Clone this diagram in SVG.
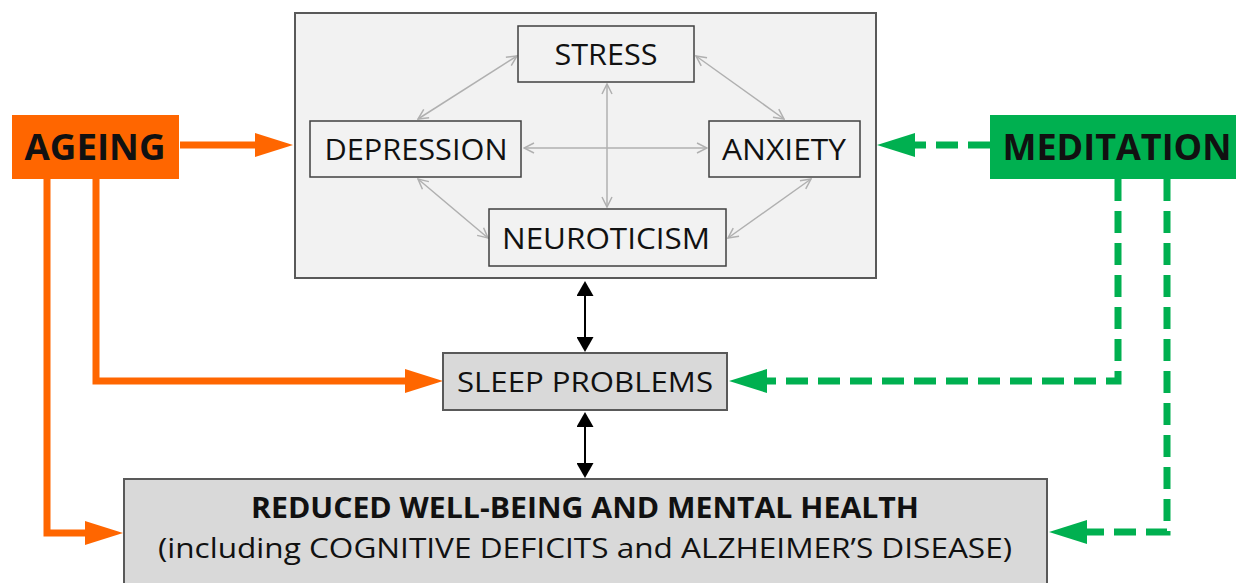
<svg xmlns="http://www.w3.org/2000/svg" width="1236" height="583" viewBox="0 0 1236 583">
<style>
text{font-family:"Open Sans","Liberation Sans",sans-serif;fill:#111;}
.lbl{font-size:30px;text-anchor:middle;}
.big{font-size:36px;font-weight:bold;text-anchor:middle;}
.box{fill:#f2f2f2;stroke:#404040;stroke-width:1.5;}
.gbox{fill:#d9d9d9;stroke:#595959;stroke-width:2;}
.gray{stroke:#b0b0b0;stroke-width:1.5;fill:none;marker-start:url(#gh);marker-end:url(#gh);}
.or{stroke:#ff6600;stroke-width:7;fill:none;marker-end:url(#oh);}
.gr{stroke:#00b050;stroke-width:7;fill:none;stroke-dasharray:22 10;marker-end:url(#grh);}
.bk{stroke:#000;stroke-width:2;fill:none;marker-start:url(#bh);marker-end:url(#bh);}
</style>
<defs>
<marker id="gh" viewBox="0 0 12 12" refX="11" refY="6" markerWidth="12" markerHeight="12" markerUnits="userSpaceOnUse" orient="auto-start-reverse"><path d="M1,1 L11,6 L1,11" fill="none" stroke="#b0b0b0" stroke-width="1.5"/></marker>
<marker id="oh" viewBox="0 0 38 24" refX="0" refY="12" markerWidth="38" markerHeight="24" markerUnits="userSpaceOnUse" orient="auto"><path d="M0,0 L38,12 L0,24 z" fill="#ff6600"/></marker>
<marker id="grh" viewBox="0 0 38 24" refX="0" refY="12" markerWidth="38" markerHeight="24" markerUnits="userSpaceOnUse" orient="auto"><path d="M0,0 L38,12 L0,24 z" fill="#00b050"/></marker>
<marker id="bh" viewBox="0 0 15 17" refX="0" refY="8.5" markerWidth="15" markerHeight="17" markerUnits="userSpaceOnUse" orient="auto-start-reverse"><path d="M0,0 L15,8.5 L0,17 z" fill="#000"/></marker>
</defs>

<g id="mood-group">
<rect x="295" y="13" width="581" height="265" fill="#f2f2f2" stroke="#595959" stroke-width="2"/>
</g>

<g id="connectors">
<line class="gray" x1="418" y1="119" x2="517" y2="56"/>
<line class="gray" x1="696" y1="56" x2="784" y2="119"/>
<line class="gray" x1="524" y1="148" x2="707" y2="148"/>
<line class="gray" x1="607" y1="84" x2="607" y2="207"/>
<line class="gray" x1="418" y1="179" x2="488" y2="238"/>
<line class="gray" x1="811" y1="179" x2="728" y2="238"/>
<line class="bk" x1="585" y1="296" x2="585" y2="337"/>
<line class="bk" x1="585" y1="427" x2="585" y2="463"/>
<path class="or" d="M180,145 H255"/>
<path class="or" d="M96,179 V381 H405"/>
<path class="or" d="M47,179 V533 H85"/>
<path class="gr" d="M990,145 H915"/>
<path class="gr" d="M1118,179 V381 H767"/>
<path class="gr" d="M1167,179 V532 H1087"/>
</g>

<g id="ageing">
<rect x="12" y="115" width="167" height="64" fill="#ff6600"/>
<text class="big" x="95" y="160" textLength="141" lengthAdjust="spacingAndGlyphs">AGEING</text>
</g>
<g id="meditation">
<rect x="990" y="115" width="250" height="64" fill="#00b050"/>
<text class="big" x="1117" y="160" textLength="229" lengthAdjust="spacingAndGlyphs">MEDITATION</text>
</g>
<g id="stress">
<rect class="box" x="518" y="26" width="176" height="56"/>
<text class="lbl" x="606" y="65" textLength="103" lengthAdjust="spacingAndGlyphs">STRESS</text>
</g>
<g id="depression">
<rect class="box" x="310" y="121" width="211" height="56"/>
<text class="lbl" x="416" y="160" textLength="183" lengthAdjust="spacingAndGlyphs">DEPRESSION</text>
</g>
<g id="anxiety">
<rect class="box" x="709" y="121" width="151" height="56"/>
<text class="lbl" x="784" y="160" textLength="124" lengthAdjust="spacingAndGlyphs">ANXIETY</text>
</g>
<g id="neuroticism">
<rect class="box" x="489" y="209" width="237" height="57"/>
<text class="lbl" x="606" y="249" textLength="208" lengthAdjust="spacingAndGlyphs">NEUROTICISM</text>
</g>
<g id="sleep">
<rect class="gbox" x="443" y="353" width="284" height="57"/>
<text class="lbl" x="585" y="392" style="font-size:27px" textLength="256" lengthAdjust="spacingAndGlyphs">SLEEP PROBLEMS</text>
</g>
<g id="wellbeing">
<rect class="gbox" x="124" y="479" width="923" height="115"/>
<text class="lbl" x="585" y="518" style="font-size:28px;font-weight:bold" textLength="668" lengthAdjust="spacingAndGlyphs">REDUCED WELL-BEING AND MENTAL HEALTH</text>
<text class="lbl" x="585" y="558" style="font-size:28px" textLength="854" lengthAdjust="spacingAndGlyphs">(including COGNITIVE DEFICITS and ALZHEIMER’S DISEASE)</text>
</g>
</svg>
